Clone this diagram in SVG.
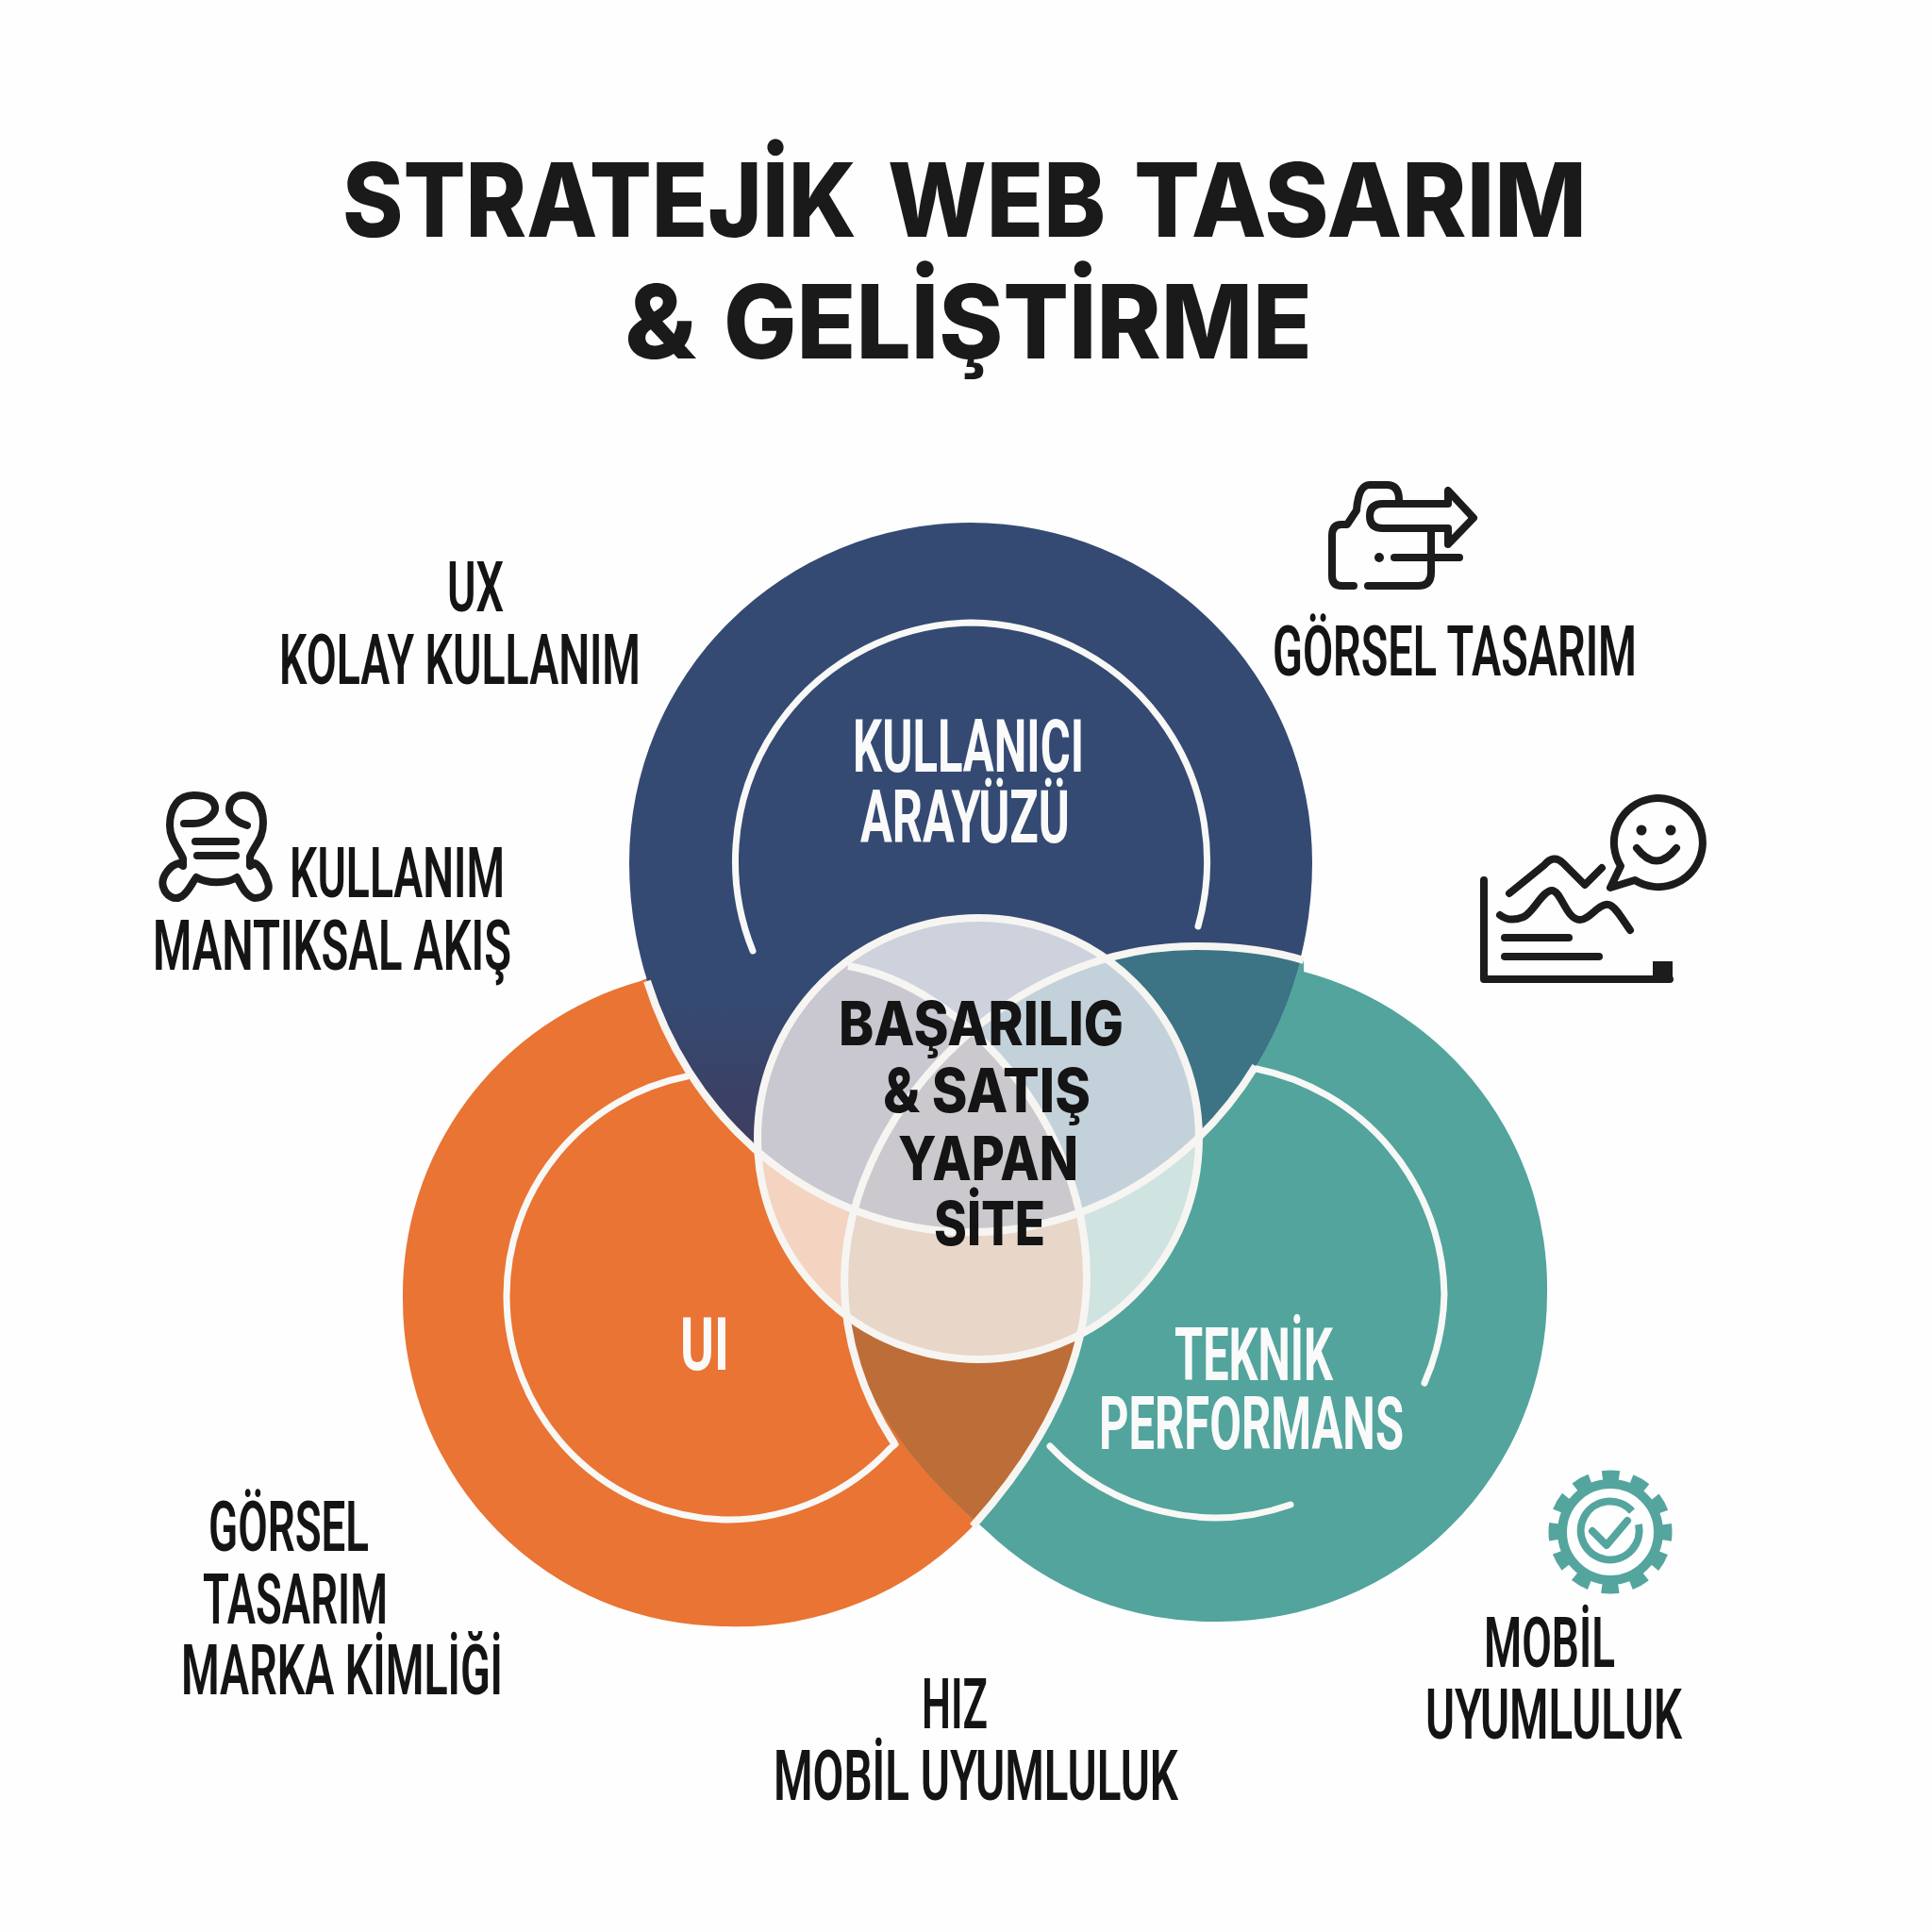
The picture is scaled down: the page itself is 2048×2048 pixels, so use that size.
<svg xmlns="http://www.w3.org/2000/svg" width="2048" height="2048" viewBox="0 0 2048 2048">
<style>
.title{font-family:Inter,"Liberation Sans",sans-serif;font-weight:800;font-size:108px;fill:#1a1a1a}
.core{font-family:Inter,"Liberation Sans",sans-serif;font-weight:800;font-size:64px;fill:#141414}
.lab{font-family:Roboto,"Liberation Sans",sans-serif;font-weight:600;font-size:74px;fill:#141414}
.wl{font-family:Roboto,"Liberation Sans",sans-serif;font-weight:700;font-size:78px;fill:#fafafa}
.sep{fill:none;stroke:#f6f5f2;stroke-width:8;stroke-linecap:butt}
.arc{fill:none;stroke:#f8f8f6;stroke-width:7;stroke-linecap:round}
.ico{fill:none;stroke:#1c1c1c;stroke-width:8;stroke-linecap:round;stroke-linejoin:round}
</style>
<defs>
<path id="B" d="M667 914A362 360 0 0 1 1391 914A362 392 0 0 1 667 914Z"/>
<path id="O" d="M1031 1618A345 345 0 0 1 770 1724A343 346 0 0 1 427 1378A345 345 0 0 1 679 1040C750 1010 830 1010 899 1024C1020 1045 1152 1190 1152 1354C1152 1440 1110 1530 1031 1618Z"/>
<path id="T" d="M1045 1622C985 1570 895 1480 895 1358C895 1190 1060 1003 1267 1003C1310 1003 1350 1008 1382 1018L1382 1030A347 347 0 0 1 1640 1372A347 347 0 0 1 1293 1719A347 347 0 0 1 1045 1622Z"/>
<circle id="C" cx="1037" cy="1207" r="234"/>
<clipPath id="cB"><use href="#B"/></clipPath>
<clipPath id="cO"><use href="#O"/></clipPath>
<clipPath id="cT"><use href="#T"/></clipPath>
<clipPath id="cC"><use href="#C"/></clipPath>
<linearGradient id="navy" gradientUnits="userSpaceOnUse" x1="0" y1="1050" x2="0" y2="1220">
<stop offset="0" stop-color="#344a72"/><stop offset="1" stop-color="#3f3d60"/>
</linearGradient>
</defs>
<rect width="2048" height="2048" fill="#fefefe"/>

<g id="title">
<text class="title" y="251"><tspan x="363" textLength="545" lengthAdjust="spacingAndGlyphs">STRATEJİK</tspan> <tspan x="941" textLength="231" lengthAdjust="spacingAndGlyphs">WEB</tspan> <tspan x="1202" textLength="480" lengthAdjust="spacingAndGlyphs">TASARIM</tspan></text>
<text class="title" y="380"><tspan x="662" textLength="76" lengthAdjust="spacingAndGlyphs">&amp;</tspan> <tspan x="767" textLength="624" lengthAdjust="spacingAndGlyphs">GELİŞTİRME</tspan></text>
</g>

<g id="venn-fills">
<use href="#O" fill="#e97434"/>
<use href="#T" fill="#52a49d"/>
<g clip-path="url(#cO)"><use href="#T" fill="#bd6d38"/></g>
<use href="#B" fill="#344a72"/>
<g clip-path="url(#cB)"><use href="#O" fill="url(#navy)"/></g>
<g clip-path="url(#cB)"><use href="#T" fill="#3c7485"/></g>
</g>

<g id="venn-center" clip-path="url(#cC)">
<use href="#C" fill="#ffffff"/>
<use href="#O" fill="#f4d3c1"/>
<use href="#T" fill="#cfe3e0"/>
<g clip-path="url(#cO)"><use href="#T" fill="#e8d6c8"/></g>
<use href="#B" fill="#cdd2dc"/>
<g clip-path="url(#cB)"><use href="#O" fill="#c9c8d0"/></g>
<g clip-path="url(#cB)"><use href="#T" fill="#c3d1da"/></g>
<g clip-path="url(#cB)"><g clip-path="url(#cO)"><use href="#T" fill="#ccc9ce"/></g></g>
</g>

<g id="connectors">
<path class="sep" d="M686 1040A362 392 0 0 0 1331 1130"/>
<path class="sep" d="M948 1530C915 1480 895 1420 895 1358C895 1190 1060 1003 1267 1003C1310 1003 1350 1008 1382 1018"/>
<path class="sep" d="M899 1024C1020 1045 1152 1190 1152 1354C1152 1440 1110 1530 1031 1618"/>
<circle class="sep" cx="1037" cy="1207" r="234"/>
<path class="arc" d="M798 1008A253 253 0 0 1 1029 660A253 253 0 0 1 1270 982"/>
<path class="arc" d="M728 1141A237 237 0 0 0 537 1374A237 237 0 0 0 773 1611A237 237 0 0 0 944 1535L949 1531"/>
<path class="arc" d="M1332 1133A248 248 0 0 1 1531 1372A248 248 0 0 1 1510 1466"/>
<path class="arc" d="M1113 1533A240 240 0 0 0 1368 1595"/>
</g>

<g id="node-ui-top">
<text class="wl" x="904" y="818" textLength="245" lengthAdjust="spacingAndGlyphs">KULLANICI</text>
<text class="wl" x="912" y="893" textLength="222" lengthAdjust="spacingAndGlyphs">ARAYÜZÜ</text>
</g>
<g id="node-ui">
<text class="wl" x="721" y="1452" textLength="52" lengthAdjust="spacingAndGlyphs">UI</text>
</g>
<g id="node-tech">
<text class="wl" x="1245" y="1463" textLength="168" lengthAdjust="spacingAndGlyphs">TEKNİK</text>
<text class="wl" x="1165" y="1536" textLength="323" lengthAdjust="spacingAndGlyphs">PERFORMANS</text>
</g>
<g id="node-core">
<text class="core" x="889" y="1108" textLength="302" lengthAdjust="spacingAndGlyphs">BAŞARILIG</text>
<text class="core" x="936" y="1179" textLength="220" lengthAdjust="spacingAndGlyphs">&amp; SATIŞ</text>
<text class="core" x="952" y="1251" textLength="191" lengthAdjust="spacingAndGlyphs">YAPAN</text>
<text class="core" x="990" y="1320" textLength="118" lengthAdjust="spacingAndGlyphs">SİTE</text>
</g>

<g id="label-ux">
<text class="lab" x="474" y="648" textLength="60" lengthAdjust="spacingAndGlyphs">UX</text>
<text class="lab" x="296" y="725" textLength="383" lengthAdjust="spacingAndGlyphs">KOLAY KULLANIM</text>
</g>
<g id="label-gorsel-top">
<text class="lab" x="1349" y="716" textLength="386" lengthAdjust="spacingAndGlyphs">GÖRSEL TASARIM</text>
</g>
<g id="label-kullanim">
<text class="lab" x="307" y="951" textLength="228" lengthAdjust="spacingAndGlyphs">KULLANIM</text>
<text class="lab" x="162" y="1028" textLength="380" lengthAdjust="spacingAndGlyphs">MANTIKSAL AKIŞ</text>
</g>
<g id="label-gorsel">
<text class="lab" x="221" y="1644" textLength="170" lengthAdjust="spacingAndGlyphs">GÖRSEL</text>
<text class="lab" x="215" y="1721" textLength="196" lengthAdjust="spacingAndGlyphs">TASARIM</text>
<text class="lab" x="192" y="1796" textLength="341" lengthAdjust="spacingAndGlyphs">MARKA KİMLİĞİ</text>
</g>
<g id="label-hiz">
<text class="lab" x="977" y="1832" textLength="70" lengthAdjust="spacingAndGlyphs">HIZ</text>
<text class="lab" x="820" y="1908" textLength="429" lengthAdjust="spacingAndGlyphs">MOBİL UYUMLULUK</text>
</g>
<g id="label-mobil">
<text class="lab" x="1573" y="1767" textLength="139" lengthAdjust="spacingAndGlyphs">MOBİL</text>
<text class="lab" x="1511" y="1843" textLength="272" lengthAdjust="spacingAndGlyphs">UYUMLULUK</text>
</g>

<g id="icon-folder" class="ico">
<path d="M1435 621H1422Q1412 621 1412 610V568Q1412 556 1422 556H1428L1438 541Q1440 514 1452 514H1470Q1483 514 1483 530"/>
<path d="M1535 534H1466Q1452 534 1452 547Q1452 560 1466 560H1535V577L1562 549L1535 520Z"/>
<path d="M1450 621H1503Q1517 621 1517 607V561"/>
<path d="M1478 591H1547"/>
<circle cx="1462" cy="591" r="5" fill="#1c1c1c" stroke="none"/>
</g>

<g id="icon-chart" class="ico">
<path d="M1733 933A47 47 0 1 0 1718 918L1707 941Z"/>
<circle cx="1740" cy="880" r="5.5" fill="#1c1c1c" stroke="none"/>
<circle cx="1771" cy="880" r="5.5" fill="#1c1c1c" stroke="none"/>
<path d="M1735 899Q1756 926 1777 899"/>
<path d="M1573 933V1038H1770"/>
<rect x="1752" y="1019" width="21" height="22" fill="#1c1c1c" stroke="none"/>
<path d="M1600 947L1637 917Q1647 905 1657 915L1680 938L1698 920"/>
<path d="M1590 970Q1600 978 1615 972C1625 968 1635 944 1645 944C1655 944 1660 975 1675 975C1685 975 1695 957 1705 959C1712 960 1720 975 1728 986"/>
<path d="M1595 994H1663M1595 1014H1695"/>
</g>

<g id="icon-flow" class="ico">
<path d="M195 873H205C220 873 229 862 228 855C226 845 215 843 205 843C190 843 180 855 180 875C180 890 190 900 194 910V918L190 915C180 917 170 930 173 940C176 950 185 955 193 950C200 945 203 937 208 930C220 937 240 937 251 930C255 937 260 950 270 952C280 952 287 945 284 936C281 925 275 917 270 915L265 918V908C270 895 279 890 279 872C279 855 270 843 258 843C248 843 243 850 243 858C243 866 252 872 262 875"/>
<path d="M207 892H250M209 907H250"/>
</g>

<g id="icon-gear" fill="none" stroke="#55a59f" stroke-linecap="butt">
<circle cx="1707" cy="1624" r="51" stroke-width="10"/>
<circle cx="1707" cy="1624" r="60" stroke-width="11" stroke-dasharray="18 13.416" stroke-dashoffset="9"/>
<path d="M1737 1616A31 31 0 1 1 1730 1602" stroke-width="8"/>
<path d="M1688 1623L1703 1638L1725 1612" stroke-width="8" stroke-linecap="round" stroke-linejoin="round"/>
</g>
</svg>
